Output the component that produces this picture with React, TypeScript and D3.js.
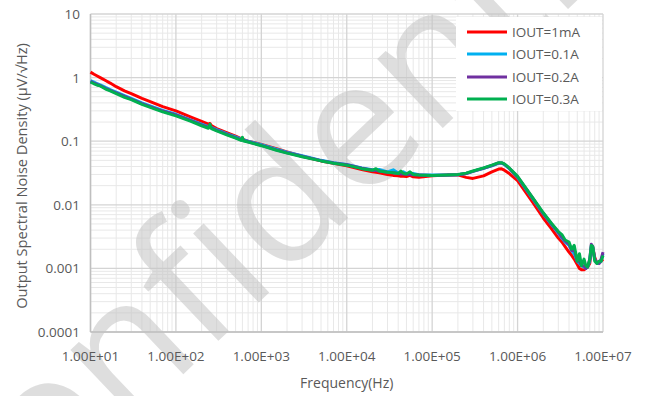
import React from "react";
import * as d3 from "d3";

const FREQ = [10, 11, 12, 13, 15, 17, 20, 25, 30, 40, 50, 70, 100, 150, 200, 240, 250, 260, 300, 400, 500, 580, 600, 620, 700, 1000, 1500, 2000, 3000, 5000, 7000, 1e4, 1.5e4, 2e4, 2.2e4, 2.4e4, 3e4, 3.5e4, 4e4, 4.3e4, 4.6e4, 5e4, 5.5e4, 6e4, 7e4, 1e5, 1.5e5, 2e5, 2.5e5, 3e5, 4e5, 5e5, 6e5, 6.5e5, 7e5, 8e5, 1e6, 1.5e6, 2e6, 2.5e6, 3e6, 3.3e6, 3.6e6, 4e6, 4.3e6, 4.6e6, 5e6, 5.3e6, 5.6e6, 6e6, 6.3e6, 6.6e6, 7e6, 7.3e6, 7.6e6, 8e6, 8.5e6, 9e6, 9.5e6, 1e7];

const IOUT_1MA = [1.22, 1.13, 1.06, 1.0, 0.9, 0.82, 0.72, 0.62, 0.56, 0.47, 0.42, 0.35, 0.3, 0.24, 0.205, 0.185, 0.19, 0.176, 0.158, 0.135, 0.12, 0.11, 0.112, 0.106, 0.1, 0.089, 0.076, 0.068, 0.058, 0.049, 0.045, 0.041, 0.036, 0.033, 0.0325, 0.032, 0.03, 0.029, 0.0285, 0.028, 0.028, 0.0278, 0.029, 0.0275, 0.027, 0.0285, 0.0295, 0.0295, 0.027, 0.026, 0.0285, 0.033, 0.0365, 0.0368, 0.035, 0.031, 0.024, 0.011, 0.0062, 0.0042, 0.003, 0.0026, 0.0022, 0.0018, 0.0016, 0.0014, 0.00115, 0.001, 0.00095, 0.00095, 0.001, 0.00105, 0.0012, 0.0019, 0.0021, 0.0015, 0.0012, 0.0012, 0.0013, 0.0014];

const IOUT_01A = [0.9, 0.85, 0.8, 0.77, 0.7, 0.65, 0.59, 0.52, 0.47, 0.4, 0.36, 0.305, 0.265, 0.215, 0.185, 0.17, 0.168, 0.165, 0.152, 0.13, 0.117, 0.108, 0.107, 0.105, 0.1, 0.088, 0.075, 0.067, 0.059, 0.05, 0.046, 0.043, 0.038, 0.0355, 0.035, 0.036, 0.033, 0.0355, 0.0315, 0.031, 0.033, 0.031, 0.0305, 0.031, 0.0298, 0.0293, 0.0295, 0.0298, 0.031, 0.0335, 0.0375, 0.041, 0.045, 0.045, 0.043, 0.037, 0.027, 0.0125, 0.0072, 0.0049, 0.0036, 0.003, 0.0026, 0.0023, 0.0019, 0.0017, 0.0013, 0.0012, 0.0011, 0.00105, 0.001, 0.00105, 0.0013, 0.0022, 0.0021, 0.0014, 0.0012, 0.0012, 0.0013, 0.0017];

const IOUT_02A = [0.87, 0.82, 0.78, 0.75, 0.68, 0.63, 0.575, 0.505, 0.46, 0.39, 0.35, 0.298, 0.258, 0.21, 0.18, 0.165, 0.17, 0.162, 0.148, 0.128, 0.114, 0.105, 0.106, 0.103, 0.098, 0.086, 0.073, 0.066, 0.058, 0.0495, 0.0455, 0.0425, 0.0375, 0.035, 0.0345, 0.034, 0.0325, 0.032, 0.031, 0.0305, 0.0305, 0.0302, 0.03, 0.0298, 0.0295, 0.029, 0.0293, 0.0298, 0.031, 0.0335, 0.0375, 0.0415, 0.0455, 0.0455, 0.0435, 0.0375, 0.0275, 0.0128, 0.0073, 0.005, 0.0037, 0.0031, 0.0027, 0.0024, 0.0019, 0.002, 0.0013, 0.0013, 0.0011, 0.0011, 0.001, 0.00105, 0.0014, 0.0024, 0.0022, 0.0014, 0.0012, 0.0012, 0.0014, 0.0018];

const IOUT_03A = [0.85, 0.8, 0.76, 0.74, 0.66, 0.62, 0.56, 0.49, 0.45, 0.38, 0.34, 0.29, 0.25, 0.205, 0.175, 0.16, 0.185, 0.158, 0.145, 0.125, 0.112, 0.103, 0.115, 0.101, 0.097, 0.085, 0.072, 0.065, 0.057, 0.049, 0.045, 0.042, 0.037, 0.035, 0.037, 0.034, 0.0325, 0.032, 0.031, 0.034, 0.031, 0.0305, 0.033, 0.03, 0.0295, 0.029, 0.0295, 0.03, 0.0315, 0.034, 0.038, 0.042, 0.046, 0.046, 0.044, 0.038, 0.028, 0.013, 0.0075, 0.0051, 0.0038, 0.0034, 0.0028, 0.0026, 0.002, 0.0023, 0.0013, 0.0017, 0.0011, 0.0014, 0.0011, 0.00105, 0.0014, 0.0023, 0.0022, 0.0013, 0.0012, 0.0013, 0.0013, 0.0016];

const SERIES_NAMES = ["IOUT=1mA", "IOUT=0.1A", "IOUT=0.2A", "IOUT=0.3A"];
const SERIES_COLORS = ["#ff0000", "#00b0f0", "#7030a0", "#00b050"];
const SERIES_VALUES = [IOUT_1MA, IOUT_01A, IOUT_02A, IOUT_03A];

const X_TICKS = [1e1, 1e2, 1e3, 1e4, 1e5, 1e6, 1e7];
const X_TICK_LABELS = ["1.00E+01", "1.00E+02", "1.00E+03", "1.00E+04", "1.00E+05", "1.00E+06", "1.00E+07"];
const Y_TICKS = [1e-4, 1e-3, 1e-2, 1e-1, 1, 10];
const Y_TICK_LABELS = ["0.0001", "0.001", "0.01", "0.1", "1", "10"];

const X_TITLE = "Frequency(Hz)";
const Y_TITLE = "Output Spectral Noise Density (μV/√Hz)";
const WATERMARK = "Confidential";

const W = 650;
const H = 396;
const L = 90.5;
const R = 603;
const T = 14;
const B = 332;
const FONT = "'Open Sans', 'Noto Sans', sans-serif";
const TEXT = "#595959";

export default function App() {
  const x = d3.scaleLog().domain([1e1, 1e7]).range([L, R]);
  const y = d3.scaleLog().domain([1e-4, 10]).range([B, T]);

  const minorX: number[] = [];
  for (let d = 1; d < 7; d++) for (let k = 2; k <= 9; k++) minorX.push(k * Math.pow(10, d));
  const minorY: number[] = [];
  for (let d = -4; d < 1; d++) for (let k = 2; k <= 9; k++) minorY.push(k * Math.pow(10, d));

  const line = d3
    .line<number>()
    .x((_, i) => x(FREQ[i]))
    .y((v) => y(v));

  const legendX = 456;
  const legendRows = [32, 54, 77, 99];

  return (
    <div style={{ position: "absolute", left: 0, top: 0 }}>
      <svg width={W} height={H} style={{ display: "block", background: "#fff" }}>
        <rect x={0} y={0} width={W} height={H} fill="#fff" />
        {minorX.map((v, i) => (
          <line key={"mx" + i} x1={x(v)} x2={x(v)} y1={T} y2={B} stroke="#e8e8e8" strokeWidth={1} />
        ))}
        {minorY.map((v, i) => (
          <line key={"my" + i} x1={L} x2={R} y1={y(v)} y2={y(v)} stroke="#e8e8e8" strokeWidth={1} />
        ))}
        {X_TICKS.map((v, i) => (
          <line key={"Mx" + i} x1={x(v)} x2={x(v)} y1={T} y2={B} stroke="#d4d4d4" strokeWidth={1.3} />
        ))}
        {Y_TICKS.map((v, i) => (
          <line key={"My" + i} x1={L} x2={R} y1={y(v)} y2={y(v)} stroke="#d4d4d4" strokeWidth={1.3} />
        ))}
        <line x1={L} x2={L} y1={T} y2={B} stroke="#bfbfbf" strokeWidth={1.5} />
        <line x1={L} x2={R} y1={B} y2={B} stroke="#bfbfbf" strokeWidth={1.5} />

        <text
          x={0}
          y={0}
          transform="translate(330,235) rotate(-43.5)"
          fontFamily={FONT}
          fontSize={178}
          textAnchor="middle"
          fill="#c4c4c4"
          opacity={0.55}
        >
          {WATERMARK}
        </text>

        <rect x={legendX} y={17} width={R - legendX - 1} height={94} fill="#fff" />

        {SERIES_VALUES.map((vals, si) => (
          <path
            key={"s" + si}
            d={line(vals) || ""}
            fill="none"
            stroke={SERIES_COLORS[si]}
            strokeWidth={3}
            strokeLinejoin="round"
          />
        ))}

        {SERIES_NAMES.map((name, i) => (
          <g key={"lg" + i}>
            <line x1={467} x2={507} y1={legendRows[i]} y2={legendRows[i]} stroke={SERIES_COLORS[i]} strokeWidth={3} />
            <text x={512} y={legendRows[i] + 5} fontFamily={FONT} fontSize={13.5} fill={TEXT}>
              {name}
            </text>
          </g>
        ))}

        {X_TICKS.map((v, i) => (
          <text key={"xl" + i} x={x(v)} y={361} textAnchor="middle" fontFamily={FONT} fontSize={13.5} fill={TEXT}>
            {X_TICK_LABELS[i]}
          </text>
        ))}
        {Y_TICKS.map((v, i) => (
          <text key={"yl" + i} x={80} y={y(v) + 5} textAnchor="end" fontFamily={FONT} fontSize={13.5} fill={TEXT}>
            {Y_TICK_LABELS[i]}
          </text>
        ))}
        <text x={(L + R) / 2} y={388} textAnchor="middle" fontFamily={FONT} fontSize={14} fill={TEXT}>
          {X_TITLE}
        </text>
        <text
          transform={`translate(27,${(T + B) / 2 + 3}) rotate(-90)`}
          textAnchor="middle"
          fontFamily={FONT}
          fontSize={14.6}
          fill={TEXT}
        >
          {Y_TITLE}
        </text>
      </svg>
    </div>
  );
}
